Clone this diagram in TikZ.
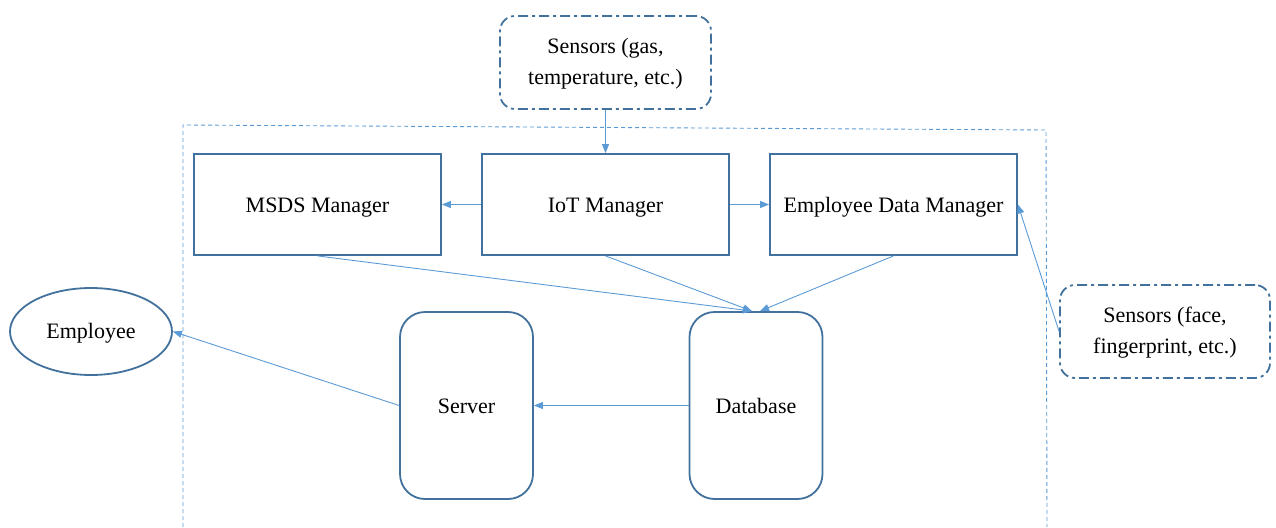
\documentclass[tikz,border=0pt]{standalone}
\usepackage{fontspec}
\setmainfont{Liberation Serif}
\usetikzlibrary{arrows.meta,shapes.geometric}
\definecolor{boxc}{HTML}{41719C}
\definecolor{arrc}{HTML}{5B9BD5}
\tikzset{
  box/.style={draw=boxc,line width=1.8pt,minimum width=247pt,minimum height=101pt,inner sep=0pt,align=center,text height=16pt,text depth=1pt},
  rbox/.style={draw=boxc,line width=1.8pt,rounded corners=25pt,minimum width=133pt,minimum height=187pt,inner sep=0pt,align=center,text height=16pt,text depth=1pt},
  sbox/.style={draw=boxc,line width=1.8pt,rounded corners=15pt,dash pattern=on 10pt off 4pt on 3pt off 4pt,inner sep=0pt,align=center},
  conn/.style={draw=arrc,line width=0.9pt,-{Triangle[length=9pt,width=7pt]}},
  frame/.style={draw=arrc,line width=0.9pt,dash pattern=on 4pt off 3pt},
}
\begin{document}
\begin{tikzpicture}[x=1pt,y=-1pt,font=\fontsize{22}{30}\selectfont]
\useasboundingbox (0,0) rectangle (1276,527);
\draw[frame] (183,527) -- (183,125) -- (1046,130) -- (1047,527);
\node[sbox,minimum width=211pt,minimum height=93pt] (stop) at (605.5,62.5) {\raisebox{-3pt}{\begin{tabular}{@{}c@{}}Sensors (gas,\\[1pt]temperature, etc.)\end{tabular}}};
\node[box] (msds) at (317.5,204.5) {MSDS Manager};
\node[box] (iot) at (605.5,204.5) {IoT Manager};
\node[box] (edm) at (893.5,204.5) {Employee Data Manager};
\node[ellipse,draw=boxc,line width=1.8pt,minimum width=162pt,minimum height=87pt,inner sep=0pt,text height=16pt,text depth=2pt] (emp) at (91,331.5) {Employee};
\node[rbox] (srv) at (466.5,405.5) {Server};
\node[rbox] (db) at (756,405.5) {Database};
\node[sbox,minimum width=210pt,minimum height=93pt] (sface) at (1165,331.5) {\raisebox{-3pt}{\begin{tabular}{@{}c@{}}Sensors (face,\\[1pt]fingerprint, etc.)\end{tabular}}};
\draw[conn] (stop.south) -- (iot.north);
\draw[conn] (iot.west) -- (msds.east);
\draw[conn] (iot.east) -- (edm.west);
\draw[conn] (msds.south) -- ([xshift=-4pt]db.north);
\draw[conn] (iot.south) -- ([xshift=-4pt]db.north);
\draw[conn] (edm.south) -- ([xshift=4pt]db.north);
\draw[conn] (db.west) -- (srv.east);
\draw[conn] (srv.west) -- (emp.east);
\draw[conn] (sface.west) -- (edm.east);
\end{tikzpicture}
\end{document}
